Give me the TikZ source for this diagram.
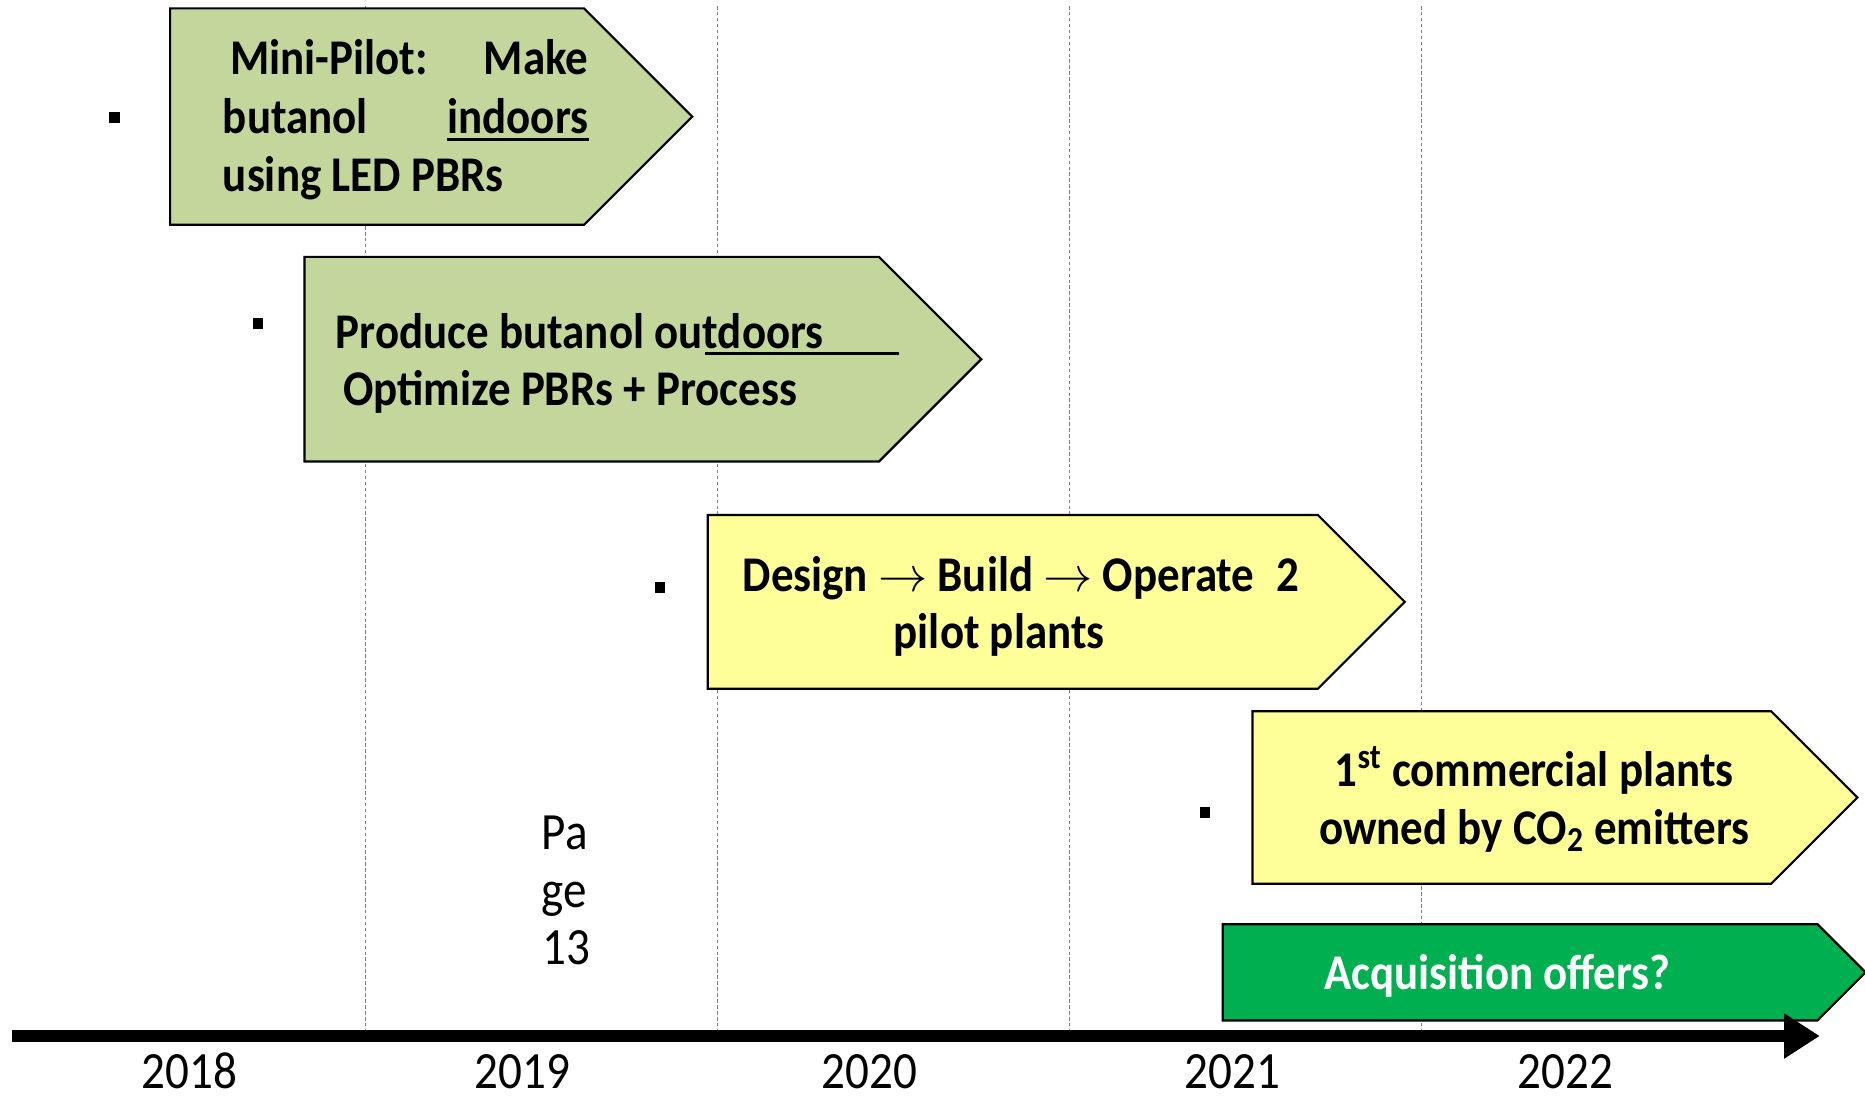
\documentclass[tikz,border=0pt]{standalone}
\usepackage{fontspec}
\setmainfont{Carlito}[FakeStretch=0.9]
\usetikzlibrary{arrows.meta}

\definecolor{stagegreen}{HTML}{C3D69B}
\definecolor{stageyellow}{HTML}{FFFF99}
\definecolor{offergreen}{HTML}{00B050}

% pointed box: style, left, top, right end of body, bottom
\newcommand{\stagearrow}[5]{%
  \path[#1] (#2,#3) -- (#4,#3) -- ({#4+(#5-#3)/2},{(#3+#5)/2})
    -- (#4,#5) -- (#2,#5) -- cycle;}

\begin{document}
\begin{tikzpicture}
  [x=0.5pt, y=-0.5pt,
  stage/.style={draw=black, line width=0.9pt, line join=miter},
  stagetext/.style={inner sep=0, font=\bfseries\fontsize{21}{24}\selectfont},
  yearlbl/.style={inner sep=0, anchor=base, font=\fontsize{22}{26}\selectfont},
  gridline/.style={draw=gray, line width=0.5pt, dash pattern=on 1.5pt off 1pt},
  bullet/.style={fill=black, inner sep=0, minimum size=4.5pt}]

  \useasboundingbox (0,0) rectangle (1568,922);

  % year dividers
  \foreach \x in {307,603,899,1195}
    \draw[gridline] (\x,5) -- (\x,866);

  % stages
  \stagearrow{stage, fill=stagegreen}{143}{7}{491}{189}
  \stagearrow{stage, fill=stagegreen}{256}{216}{739}{388}
  \stagearrow{stage, fill=stageyellow}{595}{433}{1108}{579}
  \stagearrow{stage, fill=stageyellow}{1053}{598}{1489}{743}
  \stagearrow{stage, fill=offergreen}{1028}{777}{1528}{858}

  \node[bullet] (b1) at (96,99) {};
  \node[bullet] (b2) at (217,272) {};
  \node[bullet] (b3) at (555,494) {};
  \node[bullet] (b4) at (1013,683) {};

  \node[stagetext, anchor=base west] (mini1) at (193,63) {Mini-Pilot:};
  \node[stagetext, anchor=base east] (make) at (495,63) {Make};
  \node[stagetext, anchor=base west] (mini2) at (187,112) {butanol};
  \node[stagetext, anchor=base east] (indoors) at (495,112) {indoors};
  \node[stagetext, anchor=base west] (mini3) at (187,161) {using LED PBRs};
  \draw[line width=1.1pt] ([yshift=-2.6pt]indoors.base west) -- ([yshift=-2.6pt]indoors.base east);

  \node[stagetext, anchor=base west] (prod1) at (282,293) {Produce butanol outdoors};
  \node[stagetext, anchor=base west] (prod2) at (288,341) {Optimize PBRs + Process};
  \draw[line width=1.1pt] (593,297) -- (756,297);

  \node[stagetext, anchor=base west] (pilot1) at (624,497) {Design $\rightarrow$ Build $\rightarrow$ Operate};
  \node[stagetext, anchor=base east] (two) at (1093,497) {2};
  \node[stagetext, anchor=base] (pilot2) at (840,545) {pilot plants};

  \node[stagetext, anchor=base] (comm1) at (1290,661) {1\textsuperscript{st} commercial plants};
  \node[stagetext, anchor=base] (comm2) at (1290,710) {owned by CO\textsubscript{2} emitters};

  \node[stagetext, anchor=base, text=white] (acq) at (1259,832) {Acquisition offers?};

  \node[yearlbl, anchor=base west] (pg1) at (455,714) {Pa};
  \node[yearlbl, anchor=base west] (pg2) at (455,763) {ge};
  \node[yearlbl, anchor=base west] (pg3) at (456,811) {13};

  % time line
  \coordinate (tstart) at (10,871);
  \coordinate (tend) at (1530,871);
  \draw[line width=5pt, -{Triangle[length=15pt,width=18pt]}] (tstart) -- (tend);

  \foreach \yr/\x in {2018/159, 2019/439, 2020/731, 2021/1036, 2022/1316}
    \node[yearlbl] (y\yr) at (\x,915) {\yr};
\end{tikzpicture}
\end{document}
